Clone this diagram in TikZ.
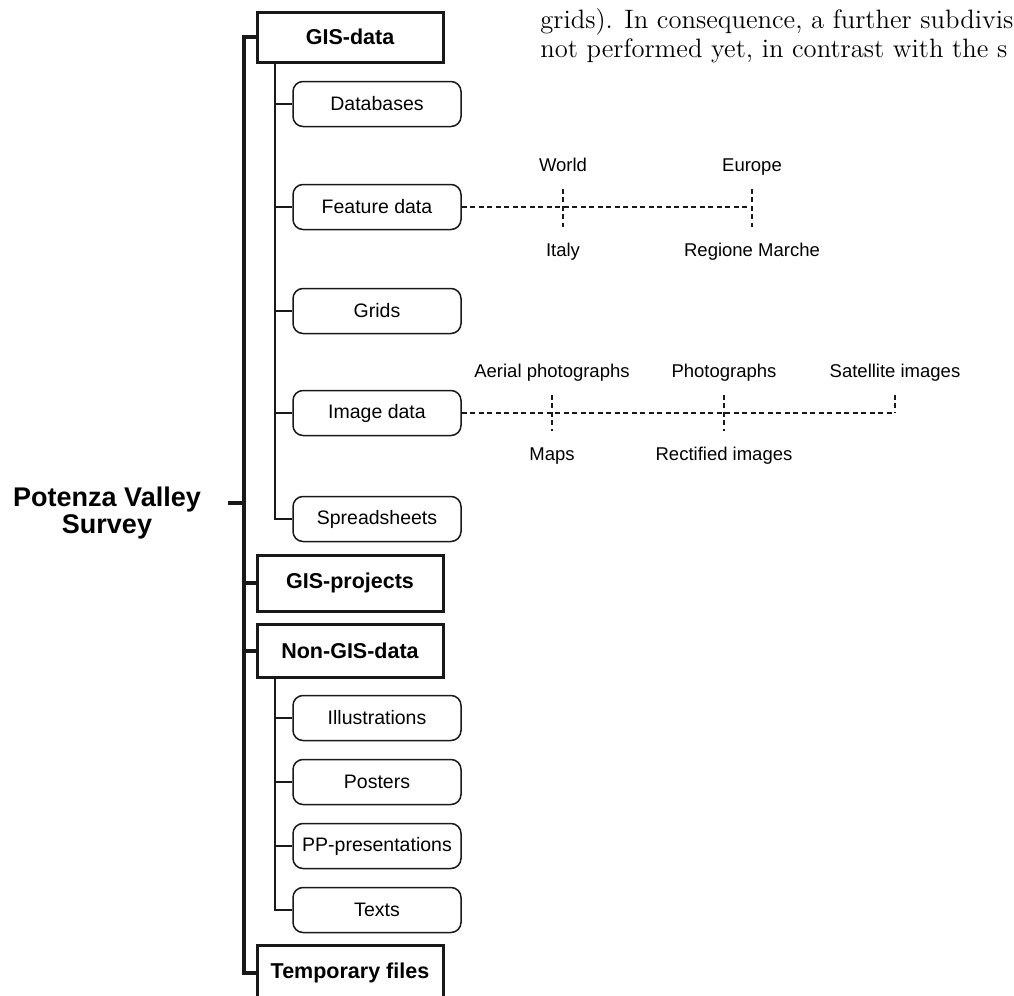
\documentclass[tikz,border=0pt]{standalone}
\usepackage{fontspec}
\newfontfamily\arialfont{Liberation Sans}
\usepackage{tikz}
\usetikzlibrary{positioning}

\begin{document}
\begin{tikzpicture}[x=0.5pt,y=-0.5pt]
  \tikzset{
    root/.style={align=center, inner sep=0pt, font=\arialfont\bfseries\fontsize{13.5}{13.5}\selectfont},
    head/.style={draw=black!90, line width=1.5pt, fill=white, minimum width=93pt, minimum height=27pt, inner sep=0pt, font=\arialfont\bfseries\fontsize{10.75}{12}\selectfont},
    leaf/.style={draw=black!90, line width=0.75pt, rounded corners=5pt, minimum width=84pt, minimum height=22.5pt, inner sep=0pt, font=\arialfont\fontsize{9.75}{11}\selectfont},
    trunk/.style={black!90, line width=1.75pt},
    twig/.style={black!90, line width=0.75pt},
    dotline/.style={black!90, line width=0.75pt, dash pattern=on 2.5pt off 1.75pt},
    lbl/.style={inner sep=0pt, text height=6.5pt, text depth=2pt, font=\arialfont\fontsize{9.25}{10}\selectfont},
    body/.style={anchor=base west, inner sep=0pt, font=\fontsize{13.3}{16}\selectfont}
  }
  \useasboundingbox (0,0) rectangle (1014,996);
  \clip (0,0) rectangle (1014,996);

  % X positions
  \def\xH{350}
  \def\xF{377}

  % page text beside the figure
  \node[body] (txtA) at (540,28) {grids). In consequence, a further subdivis};
  \node[body] (txtB) at (540,57) {not performed yet, in contrast with the s};

  % Root
  \node[root] (pvs) at (107,513) {Potenza Valley\\Survey};
  \coordinate (tick) at (228,503);
  \coordinate (tx) at (244,0);
  \coordinate (sx) at (275,0);

  % Top level folders
  \node[head, minimum height=25pt] (gisdata) at (\xH,37) {GIS-data};
  \node[head, minimum height=28pt] (gisproj) at (\xH,583) {GIS-projects};
  \node[head, minimum height=26.5pt] (nongis) at (\xH,651) {Non-GIS-data};
  \node[head, minimum height=28pt] (temp) at (\xH,973) {Temporary files};

  % GIS-data folders
  \node[leaf] (db) at (\xF,104) {Databases};
  \node[leaf] (feature) at (\xF,207) {Feature data};
  \node[leaf] (grids) at (\xF,311) {Grids};
  \node[leaf] (imgdata) at (\xF,413) {Image data};
  \node[leaf] (spread) at (\xF,519) {Spreadsheets};

  % Non-GIS-data folders
  \node[leaf] (illus) at (\xF,718) {Illustrations};
  \node[leaf] (posters) at (\xF,782) {Posters};
  \node[leaf] (pp) at (\xF,846) {PP-presentations};
  \node[leaf] (texts) at (\xF,910) {Texts};

  % Trunk
  \draw[trunk] (gisdata.west) -- (gisdata.west -| tx) -- (temp.west -| tx) -- (temp.west);
  \draw[trunk] (tick) -- (tick -| tx);
  \draw[trunk] (gisproj.west) -- (gisproj.west -| tx);
  \draw[trunk] (nongis.west) -- (nongis.west -| tx);

  % Branches
  \draw[twig] (gisdata.south -| sx) |- (spread.west);
  \foreach \n in {db,feature,grids,imgdata}
    \draw[twig] (\n.west) -- (\n.west -| sx);
  \draw[twig] (nongis.south -| sx) |- (texts.west);
  \foreach \n in {illus,posters,pp}
    \draw[twig] (\n.west) -- (\n.west -| sx);

  % Feature data subdivisions
  \node[lbl] (world) at (563,167) {World};
  \node[lbl] (europe) at (752,167) {Europe};
  \node[lbl] (italy) at (563,252) {Italy};
  \node[lbl] (marche) at (752,252) {Regione Marche};
  \draw[dotline] (feature.east) -- (feature.east -| europe.south);
  \draw[dotline, shorten <=6.5pt, shorten >=8pt] (world.south) -- (italy.north);
  \draw[dotline, shorten <=6.5pt, shorten >=8pt] (europe.south) -- (marche.north);

  % Image data subdivisions
  \node[lbl] (aerial) at (552,373) {Aerial photographs};
  \node[lbl] (photo) at (724,373) {Photographs};
  \node[lbl] (satellite) at (895,373) {Satellite images};
  \node[lbl] (maps) at (552,456) {Maps};
  \node[lbl] (rectified) at (724,456) {Rectified images};
  \draw[dotline] (imgdata.east) -- (imgdata.east -| satellite.south);
  \draw[dotline, shorten <=6.5pt, shorten >=8pt] (aerial.south) -- (maps.north);
  \draw[dotline, shorten <=6.5pt, shorten >=8pt] (photo.south) -- (rectified.north);
  \draw[dotline, shorten <=6.5pt] (satellite.south) -- (satellite.south |- imgdata.east);

\end{tikzpicture}
\end{document}
